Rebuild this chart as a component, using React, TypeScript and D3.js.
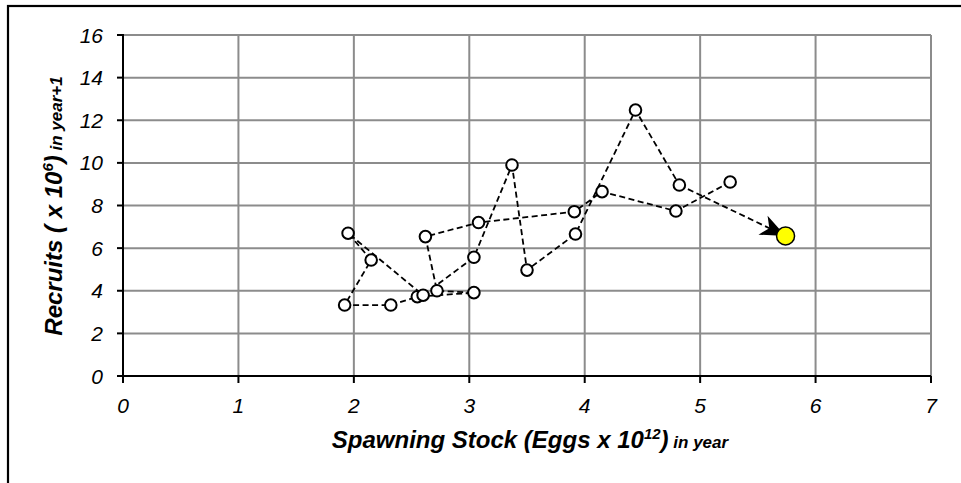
import React from "react";
import * as d3 from "d3";

// Spawning stock (Eggs x 10^12) in year, in series order
const stock = [5.26, 4.79, 4.15, 3.91, 3.08, 2.62, 2.72, 3.04, 2.55, 2.32, 1.92, 2.15, 1.95, 2.6, 3.04, 3.37, 3.5, 3.92, 4.44, 4.82];
// Recruits (x 10^6) in year+1
const recruits = [9.1, 7.74, 8.65, 7.71, 7.2, 6.54, 4.0, 3.91, 3.72, 3.33, 3.33, 5.44, 6.7, 3.79, 5.57, 9.9, 4.97, 6.66, 12.48, 8.96];
// Latest point (highlighted)
const latestStock = [5.74];
const latestRecruits = [6.57];

const xTicks = [0, 1, 2, 3, 4, 5, 6, 7];
const yTicks = [0, 2, 4, 6, 8, 10, 12, 14, 16];

const W = 961;
const H = 483;
const left = 123;
const right = 931;
const top = 35;
const bottom = 376;

const FONT = "'Liberation Sans', Arial, sans-serif";

export default function App() {
  const x = d3.scaleLinear().domain([0, 7]).range([left, right]);
  const y = d3.scaleLinear().domain([0, 16]).range([bottom, top]);

  const pts: [number, number][] = stock.map((s, i) => [x(s), y(recruits[i])]);
  const line = d3.line();
  const pathD = line(pts) || "";

  const last = pts[pts.length - 1];
  const ly: [number, number] = [x(latestStock[0]), y(latestRecruits[0])];
  const ang = (Math.atan2(ly[1] - last[1], ly[0] - last[0]) * 180) / Math.PI;

  return (
    <svg
      width={W}
      height={H}
      style={{ position: "absolute", left: 0, top: 0, background: "#fff" }}
      fontFamily={FONT}
    >
      <rect x={0} y={0} width={W} height={H} fill="#fff" />
      {/* outer frame */}
      <rect x={8} y={6} width={W + 20} height={H + 20} fill="none" stroke="#000" strokeWidth={2.2} />

      {/* gridlines */}
      {yTicks.filter((t) => t > 0).map((t) => (
        <line key={"gy" + t} x1={left} x2={right} y1={y(t)} y2={y(t)} stroke="#8c8c8c" strokeWidth={2} />
      ))}
      {xTicks.filter((t) => t > 0).map((t) => (
        <line key={"gx" + t} x1={x(t)} x2={x(t)} y1={top} y2={bottom} stroke="#8c8c8c" strokeWidth={2} />
      ))}

      {/* axes */}
      <line x1={left} x2={left} y1={top - 1} y2={bottom + 7} stroke="#000" strokeWidth={2} />
      <line x1={left - 6} x2={right} y1={bottom} y2={bottom} stroke="#000" strokeWidth={2} />
      {yTicks.map((t) => (
        <line key={"ty" + t} x1={left - 6} x2={left} y1={y(t)} y2={y(t)} stroke="#000" strokeWidth={2} />
      ))}
      {xTicks.map((t) => (
        <line key={"tx" + t} x1={x(t)} x2={x(t)} y1={bottom} y2={bottom + 7} stroke="#000" strokeWidth={2} />
      ))}

      {/* tick labels */}
      {yTicks.map((t) => (
        <text key={"ly" + t} x={103} y={y(t)} dy="0.36em" textAnchor="end" fontSize={21} fontStyle="italic" fill="#000">
          {t}
        </text>
      ))}
      {xTicks.map((t) => (
        <text key={"lx" + t} x={x(t)} y={413} textAnchor="middle" fontSize={21} fontStyle="italic" fill="#000">
          {t}
        </text>
      ))}

      {/* axis titles */}
      <text x={530} y={448} textAnchor="middle" fontWeight="bold" fontStyle="italic" fontSize={24} fill="#000">
        Spawning Stock (Eggs x 10
        <tspan fontSize={15} dy={-9}>12</tspan>
        <tspan dy={9}>)</tspan>
        <tspan fontSize={17}> in year</tspan>
      </text>
      <text
        transform={`translate(62, 206) rotate(-90)`}
        textAnchor="middle"
        fontWeight="bold"
        fontStyle="italic"
        fontSize={24}
        fill="#000"
      >
        Recruits ( x 10
        <tspan fontSize={15} dy={-9}>6</tspan>
        <tspan dy={9}>)</tspan>
        <tspan fontSize={17}> in year+1</tspan>
      </text>

      {/* series line */}
      <path d={pathD} fill="none" stroke="#000" strokeWidth={1.8} strokeDasharray="6,3.5" />
      <line x1={last[0]} y1={last[1]} x2={ly[0]} y2={ly[1]} stroke="#000" strokeWidth={1.8} strokeDasharray="6,3.5" />
      <path
        d="M0,0 L-25,-10.5 L-18,0 L-25,10.5 Z"
        transform={`translate(${ly[0]},${ly[1]}) rotate(${ang})`}
        fill="#000"
      />

      {/* markers */}
      {pts.map((p, i) => (
        <circle key={"c" + i} cx={p[0]} cy={p[1]} r={5.8} fill="#fff" stroke="#000" strokeWidth={2} />
      ))}
      <circle cx={ly[0]} cy={ly[1]} r={9} fill="#ffff00" stroke="#000" strokeWidth={1.5} />
    </svg>
  );
}
